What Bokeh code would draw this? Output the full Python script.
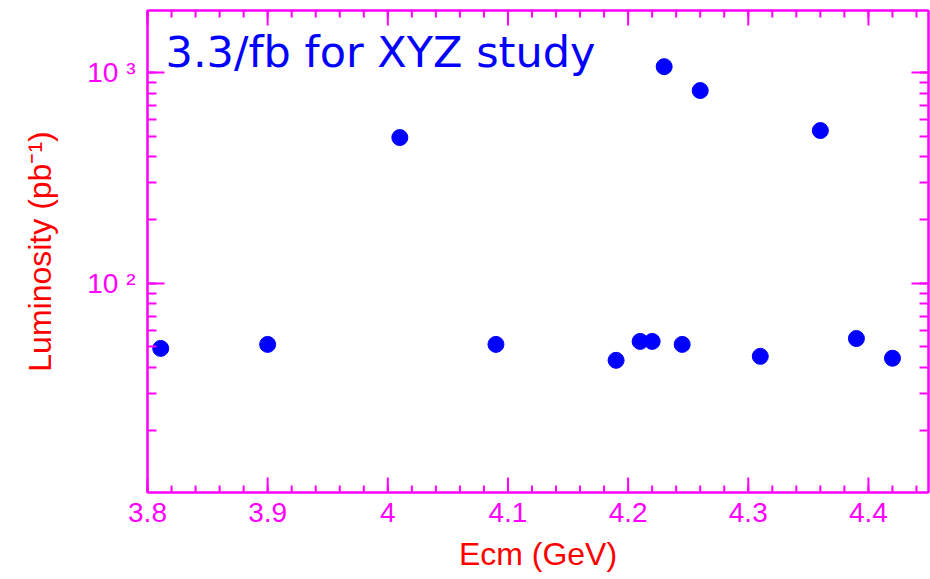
import math
from bokeh.plotting import figure
from bokeh.models import (Range1d, LinearAxis, LogAxis, FixedTicker, LogTicker,
                          CustomJSTickFormatter, Label, ColumnDataSource)
from bokeh.embed import file_html
from bokeh.resources import INLINE

# Data
ecm = [3.811, 3.90, 4.01, 4.09, 4.19, 4.21, 4.22, 4.23, 4.245, 4.26, 4.31, 4.36, 4.39, 4.42]
lumi = [49.2, 51.4, 492, 51.4, 43.2, 53.1, 53.1, 1067, 51.4, 822, 45.1, 531, 54.8, 44.2]

x_label = "Ecm (GeV)"
y_label = "Luminosity (pb\u207b\u00b9)"
title_text = "3.3/fb for XYZ study"
x_ticks = [3.8, 3.9, 4.0, 4.1, 4.2, 4.3, 4.4]
x_minor_ticks = [round(3.8 + 0.02 * i, 2) for i in range(33)]
y_tick_labels = {100: "10 \u00b2", 1000: "10 \u00b3"}

X_MIN, X_MAX = 3.8, 4.45
Y_MIN, Y_MAX = 10.2, 1970
FRAME_H = 482

MAG = "#ff00ff"
FONT = "Liberation Sans"

p = figure(width=930, height=579, output_backend="svg", toolbar_location=None,
           y_axis_type="log", x_range=Range1d(X_MIN, X_MAX), y_range=Range1d(Y_MIN, Y_MAX),
           min_border_left=147, min_border_right=2, min_border_top=10, min_border_bottom=87,
           x_axis_location=None, y_axis_location=None)
p.grid.visible = False
p.outline_line_color = MAG
p.outline_line_width = 2
p.background_fill_color = "white"
p.border_fill_color = "white"

fmt = CustomJSTickFormatter(code="return String(Number(tick.toFixed(3)));")
blank = CustomJSTickFormatter(code="return '';")

def style(ax, tin, tmin):
    ax.axis_line_color = MAG
    ax.axis_line_width = 2
    ax.major_tick_line_color = MAG
    ax.minor_tick_line_color = MAG
    ax.major_tick_line_width = 2
    ax.minor_tick_line_width = 2
    ax.major_tick_in = tin
    ax.major_tick_out = 0
    ax.minor_tick_in = tmin
    ax.minor_tick_out = 0
    ax.major_label_text_color = MAG
    ax.major_label_text_font = FONT
    ax.major_label_text_font_size = "28px"
    ax.axis_label_text_color = "red"
    ax.axis_label_text_font = FONT
    ax.axis_label_text_font_style = "normal"
    ax.axis_label_text_font_size = "32px"

xb = LinearAxis(ticker=FixedTicker(ticks=x_ticks, minor_ticks=x_minor_ticks), formatter=fmt)
style(xb, 0, 0)
xb.major_label_standoff = 10
xb.axis_label = x_label
xb.axis_label_standoff = 11

xt = LinearAxis(ticker=FixedTicker(ticks=x_ticks, minor_ticks=x_minor_ticks), formatter=blank)
style(xt, 0, 0)
xt.major_label_standoff = 0
xt.major_label_text_font_size = "1px"

yl = LogAxis(ticker=LogTicker(num_minor_ticks=10))
style(yl, 17, 9)
yl.major_label_overrides = y_tick_labels
yl.major_label_standoff = 12
yl.axis_label = y_label
yl.axis_label_standoff = 26

yr = LogAxis(ticker=LogTicker(num_minor_ticks=10), formatter=blank)
style(yr, 17, 9)
yr.major_label_standoff = 0
yr.major_label_text_font_size = "1px"

p.add_layout(xb, "below")
p.add_layout(xt, "above")
p.add_layout(yl, "left")
p.add_layout(yr, "right")

# inward x tick marks on bottom and top frame edges (lengths in pixels -> log factor)
px_per_dec = FRAME_H / math.log10(Y_MAX / Y_MIN)
def fac(px):
    return 10 ** (px / px_per_dec)

for ticks, length in ((x_minor_ticks, 7), (x_ticks, 15)):
    n = len(ticks)
    rb = p.segment(x0=ticks, x1=ticks, y0=[Y_MIN] * n, y1=[Y_MIN * fac(length)] * n,
                   line_color=MAG, line_width=2)
    rt = p.segment(x0=ticks, x1=ticks, y0=[Y_MAX] * n, y1=[Y_MAX / fac(length)] * n,
                   line_color=MAG, line_width=2)
    rb.level = "overlay"
    rt.level = "overlay"

src = ColumnDataSource(dict(x=ecm, y=lumi))
p.scatter("x", "y", source=src, size=16, fill_color="blue", line_color="blue")

p.add_layout(Label(x=3.815, y=1257, text=title_text, text_color="blue",
                   text_font="DejaVu Sans", text_font_size="43px",
                   text_baseline="alphabetic"))

open("out.html", "w").write(file_html(p, INLINE))
